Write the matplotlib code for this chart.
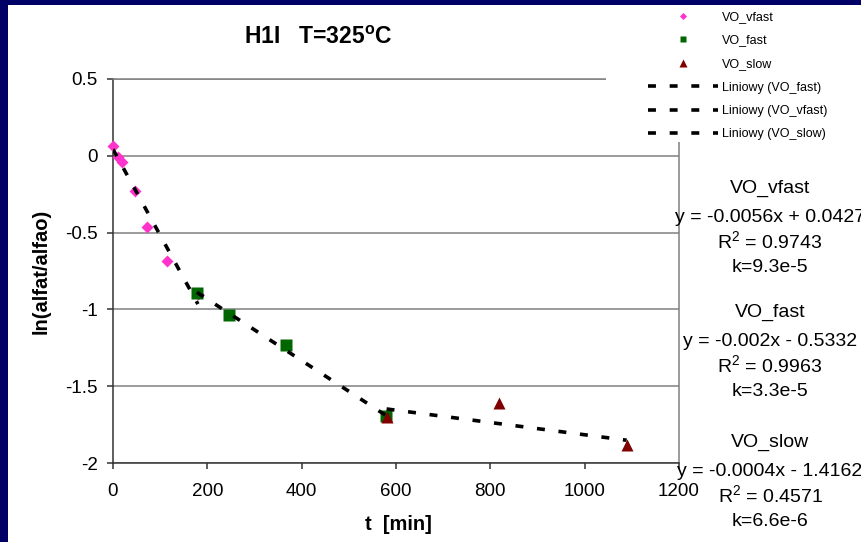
import matplotlib
matplotlib.use("Agg")
import matplotlib.pyplot as plt
from matplotlib.patches import Rectangle
import numpy as np

plt.rcParams['font.family'] = ['Liberation Sans', 'DejaVu Sans']
plt.rcParams['mathtext.fontset'] = 'custom'
plt.rcParams['mathtext.rm'] = 'Liberation Sans'
plt.rcParams['mathtext.bf'] = 'Liberation Sans:bold'
plt.rcParams['axes.unicode_minus'] = False

# data
t_vfast = [0, 10, 20, 47, 73, 115, 180]
y_vfast = [0.065, -0.01, -0.04, -0.227, -0.461, -0.688, -0.9]
t_fast = [178, 246, 367, 579]
y_fast = [-0.895, -1.034, -1.234, -1.695]
t_slow = [580, 819, 1089]
y_slow = [-1.70, -1.608, -1.883]

# linear fit coefficients shown on the chart
fit_vfast = (-0.0056, 0.0427)
fit_fast = (-0.002, -0.5332)
fit_slow = (-0.0004, -1.4162)

x_ticks = [0, 200, 400, 600, 800, 1000, 1200]
y_ticks = [-2, -1.5, -1, -0.5, 0, 0.5]
y_tick_labels = ['-2', '-1.5', '-1', '-0.5', '0', '0.5']

notes = [
    ('VO_vfast', 'y = -0.0056x + 0.0427', 'R$^2$ = 0.9743', 'k=9.3e-5'),
    ('VO_fast', 'y = -0.002x - 0.5332', 'R$^2$ = 0.9963', 'k=3.3e-5'),
    ('VO_slow', 'y = -0.0004x - 1.4162', 'R$^2$ = 0.4571', 'k=6.6e-6'),
]

W, H = 861, 542
fig = plt.figure(figsize=(W / 100, H / 100), dpi=100, facecolor='#000066')
fig.patches.append(Rectangle((8 / W, 0), 1, 1 - 5 / H, transform=fig.transFigure,
                             facecolor='white', edgecolor='none', zorder=-10))

ax = fig.add_axes([113 / W, 1 - 463 / H, 566 / W, 384 / H])
ax.set_xlim(0, 1200)
ax.set_ylim(-2, 0.5)

ax.plot(t_vfast, y_vfast, 'D', color='#ff33cc', ms=6, mec='none', label='VO_vfast',
        zorder=3, clip_on=False)
ax.plot(t_fast, y_fast, 's', color='#006600', ms=8, mec='none', label='VO_fast',
        zorder=3, clip_on=False)
ax.plot(t_slow, y_slow, '^', color='#800000', ms=8.5, mec='none', label='VO_slow',
        zorder=3, clip_on=False)

dash = (2.2, 3.8)
for name, tt, (a, b) in [('VO_fast', t_fast, fit_fast),
                         ('VO_vfast', t_vfast, fit_vfast),
                         ('VO_slow', t_slow, fit_slow)]:
    xx = np.array([min(tt), max(tt)])
    ax.plot(xx, a * xx + b, color='black', lw=2.6, dashes=dash,
            label='Liniowy (%s)' % name, zorder=4)

ax.set_xticks(x_ticks)
ax.set_yticks(y_ticks)
ax.set_yticklabels(y_tick_labels)
ax.tick_params(axis='both', direction='out', length=4.3, width=1.1, color='#333333',
               labelsize=13.5)
ax.tick_params(axis='y', pad=6.5)
ax.tick_params(axis='x', pad=10)
ax.grid(axis='y', color='#808080', lw=1.1)
ax.set_axisbelow(True)
for s in ['left', 'bottom']:
    ax.spines[s].set_color('#333333')
    ax.spines[s].set_linewidth(1.1)
for s in ['top', 'right']:
    ax.spines[s].set_color('#808080')
    ax.spines[s].set_linewidth(1.1)

# white legend area over the top right corner
fig.patches.append(Rectangle((606 / W, 1 - 142 / H), 1, (142 - 5) / H,
                             transform=fig.transFigure,
                             facecolor='white', edgecolor='none', zorder=4))
handles, labels = ax.get_legend_handles_labels()
leg = fig.legend(handles, labels, loc='upper left', bbox_to_anchor=(648 / W, 1 - 11 / H),
                 frameon=False, fontsize=9, handlelength=5.6, handletextpad=0.32,
                 labelspacing=0.92, borderpad=0, borderaxespad=0, markerscale=0.6)
leg.set_zorder(6)

fig.text(318 / W, 1 - 37 / H, 'H1I   T=325$^\\mathbf{o}$C', fontsize=16.5, fontweight='bold',
         ha='center', va='center')
fig.text(41 / W, 1 - 271 / H, 'ln(alfat/alfao)', fontsize=14.5, fontweight='bold',
         rotation=90, ha='center', va='center')
fig.text(398 / W, 1 - 525 / H, 't  [min]', fontsize=14.5, fontweight='bold',
         ha='center', va='center')

block_top = [188, 312, 442]
offs = [0, 29, 54, 80]
for top, block in zip(block_top, notes):
    for off, line in zip(offs, block):
        fig.text(770 / W, 1 - (top + off) / H, line, fontsize=14, ha='center',
                 va='center', zorder=7)

fig.savefig('out.png', dpi=100, facecolor=fig.get_facecolor())
